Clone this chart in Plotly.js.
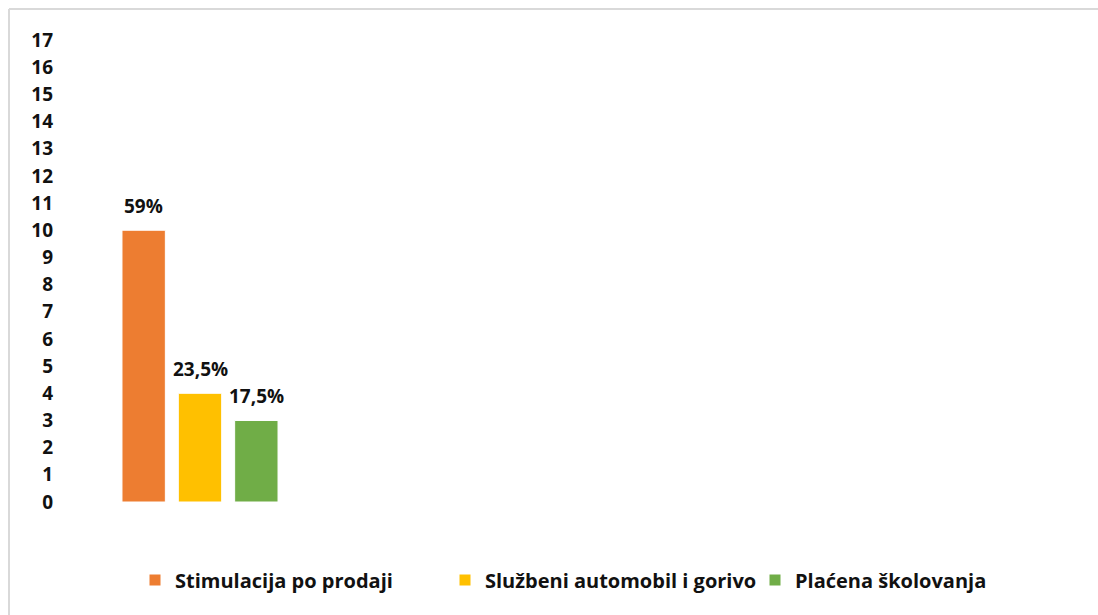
<!DOCTYPE html>
<html>
<head>
<meta charset="utf-8">
<script src="https://cdn.plot.ly/plotly-3.0.1.min.js"></script>
<style>html,body{margin:0;padding:0;background:#fff;}#chart{width:1098px;height:615px;}</style>
</head>
<body>
<div id="chart"></div>
<script>
const seriesNames = ["Stimulacija po prodaji", "Službeni automobil i gorivo", "Plaćena školovanja"];
const seriesValues = [10, 4, 3];
const seriesLabels = ["59%", "23,5%", "17,5%"];
const seriesColors = ["#ED7D31", "#FFC000", "#70AD47"];
const yTicks = [0,1,2,3,4,5,6,7,8,9,10,11,12,13,14,15,16,17];

const FONT = "'Open Sans', Lato, sans-serif";
const traces = seriesNames.map((n, i) => ({
  type: "bar",
  name: n,
  x: [0],
  y: [seriesValues[i]],
  marker: {color: seriesColors[i], line: {color: "#ffffff", width: 1}},
  hoverinfo: "skip"
}));

// data labels placed over each grouped bar (3 slots in one category)
const nS = seriesNames.length;
const labelAnnotations = seriesNames.map((n, i) => ({
  xref: "x", yref: "y",
  x: (i - (nS - 1) / 2) / nS,
  y: seriesValues[i],
  text: seriesLabels[i],
  showarrow: false,
  xanchor: "center", yanchor: "bottom", yshift: 9,
  font: {family: FONT, size: 19, color: "#111111", weight: "bold"}
}));

const L = 56, R = 10, T = 40, B = 113, W = 1098 - L - R, H = 615 - T - B;
const px = v => (v - L) / W;
const py = v => (615 - B - v) / H;

const layout = {
  width: 1098, height: 615,
  margin: {l: L, r: R, t: T, b: B},
  paper_bgcolor: "#ffffff", plot_bgcolor: "#ffffff",
  barmode: "group", bargap: 0, bargroupgap: 0.23,
  showlegend: true,
  legend: {orientation: "h", x: px(600), xanchor: "center", y: py(580), yanchor: "middle",
    entrywidth: 265, entrywidthmode: "pixels", itemwidth: 30,
    font: {family: FONT, size: 20, color: "#111111", weight: "bold"}, itemclick: false, traceorder: "normal"},
  xaxis: {range: [-0.852, 5.254], showticklabels: false, showgrid: false, zeroline: false, showline: false, fixedrange: true},
  yaxis: {range: [0, 17], tickvals: yTicks, ticktext: yTicks.map(String), showgrid: false, zeroline: false, showline: false,
    ticklabelstandoff: 2,
    tickfont: {family: FONT, size: 19, color: "#111111", weight: "bold"}, ticks: "", fixedrange: true},
  annotations: labelAnnotations,
  shapes: [
    {type: "line", xref: "paper", yref: "paper", x0: px(9), x1: px(9), y0: py(9), y1: py(620), line: {color: "#d9d9d9", width: 2}},
    {type: "line", xref: "paper", yref: "paper", x0: px(9), x1: px(1100), y0: py(9), y1: py(9), line: {color: "#d9d9d9", width: 2}}
  ]
};
Plotly.newPlot("chart", traces, layout, {displayModeBar: false, staticPlot: true});
</script>
</body>
</html>
